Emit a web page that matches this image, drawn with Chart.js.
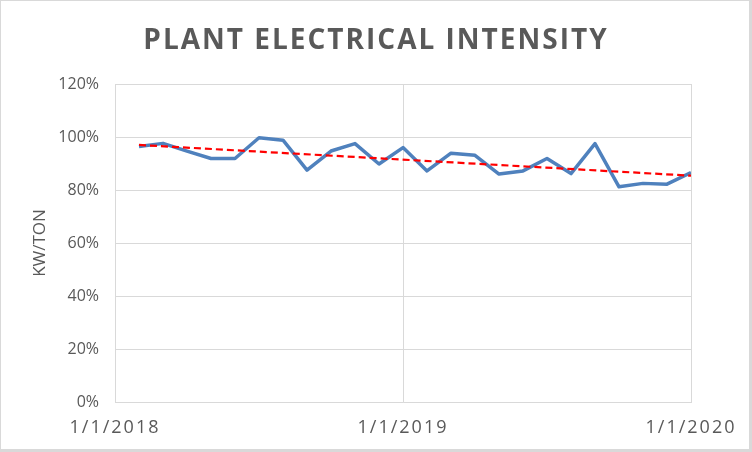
<!DOCTYPE html>
<html>
<head>
<meta charset="utf-8">
<script src="https://cdn.jsdelivr.net/npm/chart.js@4"></script>
<style>
    html, body { margin: 0; padding: 0; background: #fff; }
    #wrap {
        width: 752px;
        height: 452px;
        box-sizing: border-box;
        border-style: solid;
        border-color: #d9d9d9;
        border-width: 1px 3px 3px 1px;
        background: #fff;
    }
    #wrap canvas { display: block; }
</style>
</head>
<body>
<div id="wrap"><canvas id="intensityChart" width="748" height="448"></canvas></div>
<script>
// Chart data (months counted from 1/1/2018)
const chartTitle = 'PLANT ELECTRICAL INTENSITY';
const axisTitle = 'KW/TON';
const tickLabels = ['1/1/2018', '1/1/2019', '1/1/2020'];
const tickMonths = [0, 12, 24];
const months = [1, 2, 3, 4, 5, 6, 7, 8, 9, 10, 11, 12,
                13, 14, 15, 16, 17, 18, 19, 20, 21, 22, 23, 24];
const intensity = [96.4, 97.6, 94.7, 91.9, 91.9, 99.7, 98.8, 87.5, 94.7, 97.5, 89.8, 96.0,
                   87.2, 93.9, 93.1, 86.0, 87.2, 91.9, 86.2, 97.5, 81.2, 82.5, 82.2, 86.6];
const trendMonths = [1, 24];
const trendValues = [97.0, 85.4];

// Title drawn with letter spacing, x tick labels spaced too
const spacingPlugin = {
    id: 'spacing',
    beforeDraw(chart) {
        chart.ctx.letterSpacing = '0px';
    },
    afterDatasetsDraw(chart) {
        chart.ctx.letterSpacing = '2px';
    },
    afterDraw(chart) {
        const ctx = chart.ctx;
        ctx.save();
        ctx.letterSpacing = '2px';
        ctx.font = 'bold 28px "Open Sans"';
        ctx.fillStyle = '#595959';
        ctx.textAlign = 'center';
        ctx.textBaseline = 'alphabetic';
        ctx.fillText(chartTitle, chart.width / 2 + 1, 48);
        ctx.restore();
        ctx.letterSpacing = '0px';
    }
};

function initializeChart() {
    const ctx = document.getElementById('intensityChart').getContext('2d');

    new Chart(ctx, {
        type: 'line',
        data: {
            datasets: [{
                label: 'Intensity',
                data: months.map((m, i) => ({ x: m, y: intensity[i] })),
                borderColor: '#4f81bd',
                borderWidth: 3.5,
                pointRadius: 0,
                tension: 0,
                borderJoinStyle: 'round',
                order: 2
            }, {
                label: 'Trend',
                data: trendMonths.map((m, i) => ({ x: m, y: trendValues[i] })),
                borderColor: '#ff0000',
                borderWidth: 2.2,
                borderDash: [7, 4],
                pointRadius: 0,
                order: 1
            }]
        },
        options: {
            responsive: false,
            animation: false,
            layout: {
                padding: { top: 83, right: 58, bottom: 0, left: 0 }
            },
            plugins: {
                legend: { display: false },
                title: { display: false },
                tooltip: { enabled: false }
            },
            scales: {
                x: {
                    type: 'linear',
                    min: tickMonths[0],
                    max: tickMonths[tickMonths.length - 1],
                    afterBuildTicks: scale => {
                        scale.ticks = tickMonths.map(v => ({ value: v }));
                    },
                    afterFit: scale => { scale.height = 47; },
                    grid: { color: '#d9d9d9', lineWidth: 1, drawTicks: false },
                    border: { color: '#d9d9d9' },
                    ticks: {
                        z: 1,
                        padding: 15,
                        maxRotation: 0,
                        autoSkip: false,
                        color: '#595959',
                        font: { family: '"Open Sans"', size: 18 },
                        callback: value => tickLabels[tickMonths.indexOf(value)]
                    }
                },
                y: {
                    min: 0,
                    max: 120,
                    afterFit: scale => { scale.width = 114; },
                    grid: { color: '#d9d9d9', lineWidth: 1, drawTicks: false },
                    border: { color: '#d9d9d9' },
                    ticks: {
                        stepSize: 20,
                        padding: 16,
                        color: '#595959',
                        font: { family: '"Open Sans"', size: 16 },
                        callback: value => value + '%'
                    },
                    title: {
                        display: true,
                        text: axisTitle,
                        color: '#595959',
                        padding: { top: 29, bottom: 0 },
                        font: { family: '"Open Sans"', size: 17 }
                    }
                }
            }
        },
        plugins: [spacingPlugin]
    });
}

document.addEventListener('DOMContentLoaded', initializeChart);
</script>
</body>
</html>
